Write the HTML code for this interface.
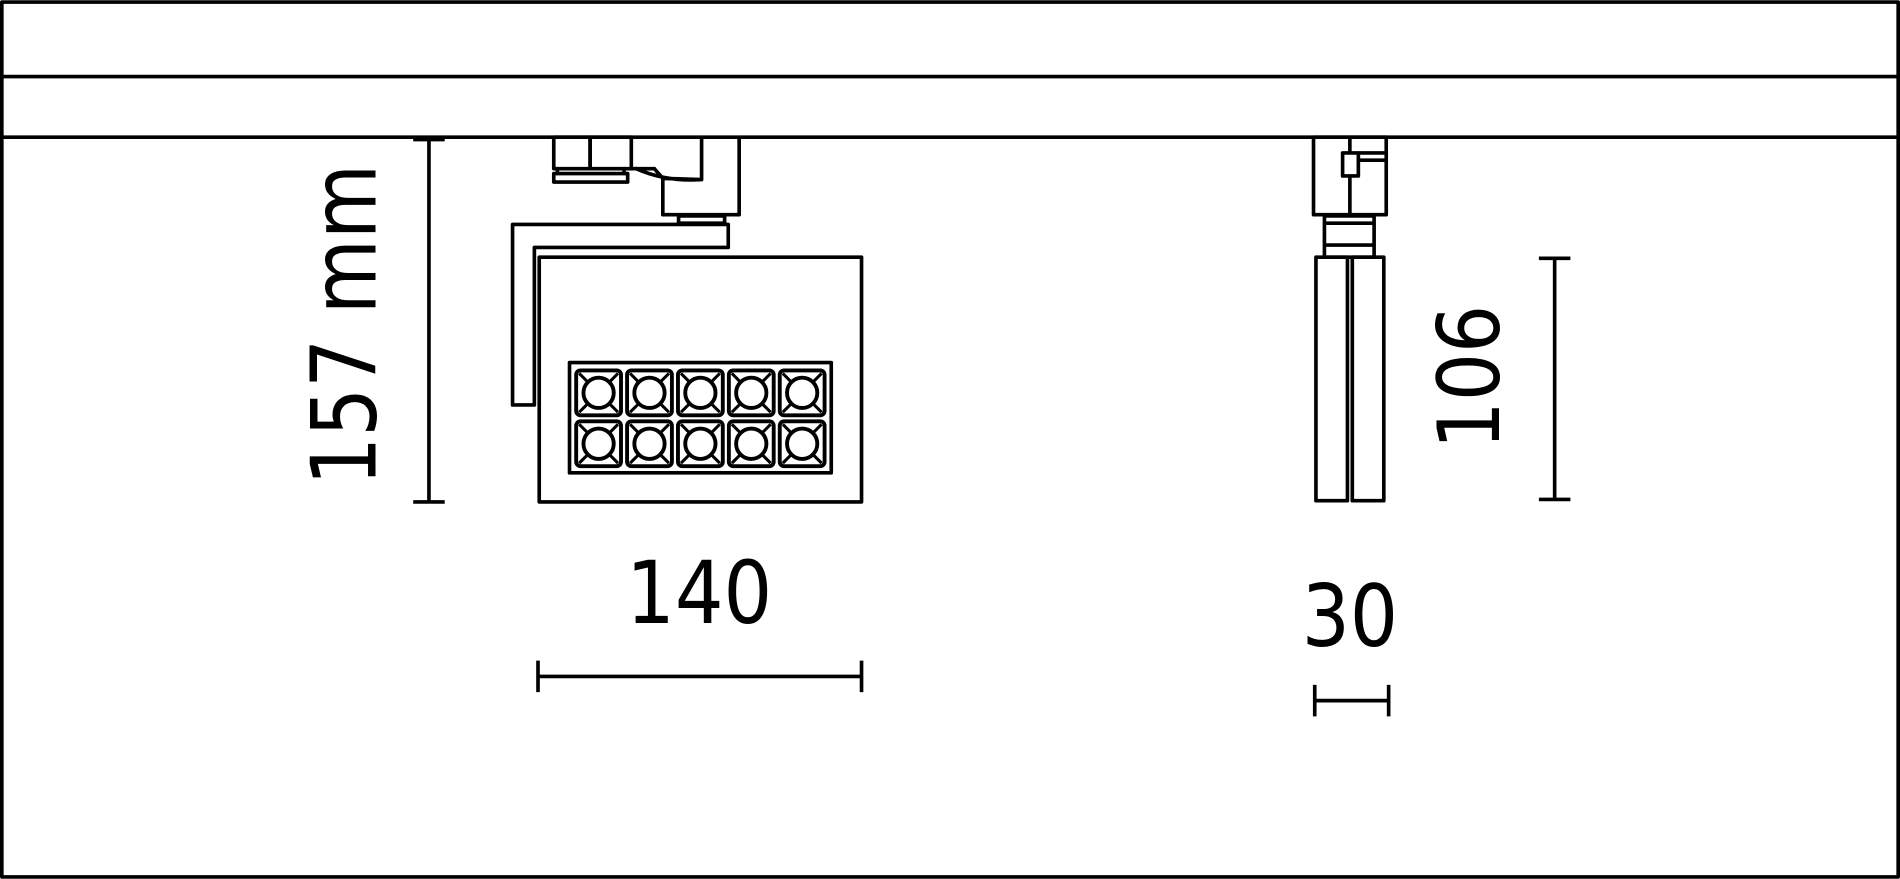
<!DOCTYPE html>
<html><head><style>html,body{margin:0;padding:0;background:#fff}svg{display:block}</style></head><body>
<svg width="1900" height="879" viewBox="0 0 1568 725" xmlns="http://www.w3.org/2000/svg">
<g fill="none" stroke="#000" stroke-width="3" stroke-linejoin="round" stroke-linecap="round">
<rect x="1.5" y="1.5" width="1565" height="722"/>
<line x1="1" y1="63" x2="1567" y2="63"/>
<line x1="1" y1="113" x2="1567" y2="113"/>
<rect x="457" y="113" width="30" height="26"/>
<rect x="487" y="113" width="34" height="26"/>
<line x1="521" y1="139" x2="540" y2="139"/>
<rect x="457" y="143" width="61" height="7"/>
<line x1="460" y1="139" x2="460" y2="143"/><line x1="515" y1="139" x2="515" y2="143"/>
<path d="M540 139 L547 147 L579 148 M525 139 Q550 150 579 148 M579 113 V148 M547 147 V177 H610 V113"/>
<rect x="560" y="178" width="38" height="6"/>
<path d="M423 185 H601 V204 H441 V334 H423 Z"/>
<rect x="445" y="212" width="266" height="202"/>
<rect x="470" y="299" width="216" height="91"/>
</g>
<g fill="none" stroke="#000" stroke-width="3.2">
<g id="led">
<rect x="475.5" y="305.5" width="37" height="37" rx="3.5"/>
<circle cx="494" cy="324" r="12.5"/>
<path d="M478 308 L486 316 M510 308 L502 316 M478 340 L486 332 M510 340 L502 332" stroke-width="2.5"/>
</g>
<use href="#led" x="42"/><use href="#led" x="84"/><use href="#led" x="126"/><use href="#led" x="168"/>
<use href="#led" y="42"/><use href="#led" x="42" y="42"/><use href="#led" x="84" y="42"/><use href="#led" x="126" y="42"/><use href="#led" x="168" y="42"/>
</g>
<g fill="none" stroke="#000" stroke-width="3" stroke-linejoin="round">
<rect x="1084" y="113" width="60" height="64"/>
<line x1="1114" y1="113" x2="1114" y2="177"/>
<rect x="1108" y="126" width="13" height="19" fill="#fff"/>
<path d="M1121 126 H1144 M1121 132 H1144"/>
<rect x="1093" y="178" width="41" height="34"/>
<path d="M1093 184 H1134 M1093 202 H1134"/>
<rect x="1086" y="212" width="26" height="201"/>
<rect x="1116" y="212" width="26" height="201"/>
<path d="M354 115 V414 M341 115 H367 M341 414 H367"/>
<path d="M444 558 H711 M444 545 V571 M711 545 V571"/>
<path d="M1085 578 H1146 M1085 565 V591 M1146 565 V591"/>
<path d="M1283 213 V412 M1270 213 H1296 M1270 412 H1296"/>
</g>
<g font-family="DejaVu Sans, Liberation Sans, sans-serif" fill="#000" text-anchor="middle">
<text transform="translate(577,514) scale(0.89,1)" font-size="71">140</text>
<text transform="translate(1114,533) scale(0.88,1)" font-size="71">30</text>
<text transform="translate(310,268) rotate(-90) scale(0.86,1)" font-size="74">157 mm</text>
<text transform="translate(1237,311) rotate(-90) scale(0.88,1)" font-size="71">106</text>
</g>
</svg>
</body></html>
